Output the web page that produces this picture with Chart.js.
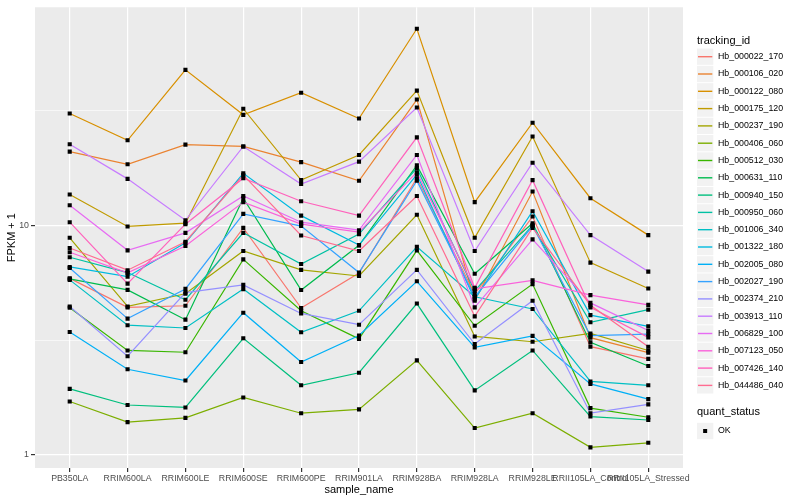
<!DOCTYPE html>
<html lang="en">
<head>
<meta charset="UTF-8">
<title>FPKM + 1 by sample_name</title>
<script src="https://cdn.jsdelivr.net/npm/chart.js"></script>
<style>
    html, body { margin: 0; padding: 0; background: #fff; }
    #wrap { width: 800px; height: 500px; }
</style>
</head>
<body>
<div id="wrap"><canvas id="fpkmChart" width="800" height="500"></canvas></div>
<script>
// x axis categories
const sampleNames = ['PB350LA', 'RRIM600LA', 'RRIM600LE', 'RRIM600SE', 'RRIM600PE', 'RRIM901LA',
    'RRIM928BA', 'RRIM928LA', 'RRIM928LE', 'RRII105LA_Control', 'RRII105LA_Stressed'];

const trackingIds = ['Hb_000022_170', 'Hb_000106_020', 'Hb_000122_080', 'Hb_000175_120', 'Hb_000237_190',
    'Hb_000406_060', 'Hb_000512_030', 'Hb_000631_110', 'Hb_000940_150', 'Hb_000950_060', 'Hb_001006_340',
    'Hb_001322_180', 'Hb_002005_080', 'Hb_002027_190', 'Hb_002374_210', 'Hb_003913_110', 'Hb_006829_100',
    'Hb_007123_050', 'Hb_007426_140', 'Hb_044486_040'];

// FPKM + 1 per gene, same order as sampleNames
const hb000022_170 = [5.87, 4.39, 4.46, 9.73, 4.36, 6.19, 16.0, 5.02, 10.9, 2.96, 2.62];
const hb000106_020 = [20.9, 18.4, 22.4, 22.0, 18.8, 15.6, 35.2, 4.69, 14.0, 3.24, 2.79];
const hb000122_080 = [30.6, 23.4, 47.4, 30.2, 37.7, 29.1, 71.5, 12.6, 27.9, 13.1, 9.05];
const hb000175_120 = [13.6, 9.87, 10.2, 32.1, 15.7, 20.2, 38.5, 8.81, 24.3, 6.87, 5.30];
const hb000237_190 = [8.81, 4.43, 5.03, 7.72, 6.39, 6.01, 11.1, 3.28, 3.11, 3.38, 2.85];
const hb000406_060 = [1.71, 1.39, 1.45, 1.78, 1.52, 1.58, 2.58, 1.31, 1.52, 1.08, 1.13];
const hb000512_030 = [4.37, 2.85, 2.80, 7.10, 4.24, 3.20, 7.77, 3.65, 5.54, 1.60, 1.46];
const hb000631_110 = [5.84, 5.23, 3.88, 13.1, 5.22, 8.17, 18.2, 6.15, 10.2, 3.09, 2.44];
const hb000940_150 = [1.94, 1.65, 1.61, 3.22, 2.01, 2.28, 4.56, 1.91, 2.85, 1.47, 1.42];
const hb000950_060 = [7.25, 6.22, 4.74, 9.26, 6.78, 9.14, 17.7, 5.18, 10.0, 3.78, 4.29];
const hb001006_340 = [5.78, 3.67, 3.57, 5.27, 3.42, 4.24, 8.05, 4.88, 4.32, 2.09, 2.01];
const hb001322_180 = [6.58, 5.97, 8.38, 16.8, 11.0, 8.19, 16.6, 4.76, 11.5, 4.06, 3.63];
const hb002005_080 = [3.43, 2.36, 2.11, 4.16, 2.54, 3.31, 5.70, 2.94, 3.30, 2.04, 1.75];
const hb002027_190 = [6.51, 3.92, 5.28, 11.2, 9.91, 6.22, 15.6, 4.88, 9.91, 3.31, 3.36];
const hb002374_210 = [4.43, 2.69, 5.09, 5.50, 4.13, 3.69, 6.39, 3.04, 4.69, 1.52, 1.66];
const hb003913_110 = [22.5, 15.9, 10.5, 22.0, 15.1, 18.9, 32.5, 7.72, 18.7, 9.05, 6.28];
const hb006829_100 = [12.2, 7.77, 9.26, 13.4, 10.3, 9.51, 20.2, 4.39, 8.67, 4.59, 3.48];
const hb007123_050 = [7.62, 6.20, 8.11, 12.6, 10.1, 9.33, 17.0, 5.28, 5.75, 4.96, 4.50];
const hb007426_140 = [10.3, 5.57, 10.1, 16.0, 12.7, 11.0, 24.1, 5.34, 15.7, 4.39, 3.25];
const hb044486_040 = [7.95, 6.37, 8.47, 16.5, 9.02, 7.72, 13.4, 4.01, 9.73, 4.48, 2.96];

const seriesValues = [hb000022_170, hb000106_020, hb000122_080, hb000175_120, hb000237_190,
    hb000406_060, hb000512_030, hb000631_110, hb000940_150, hb000950_060, hb001006_340,
    hb001322_180, hb002005_080, hb002027_190, hb002374_210, hb003913_110, hb006829_100,
    hb007123_050, hb007426_140, hb044486_040];

// y ticks: labelled decades plus the half-decade minor lines
const yTickValues = [1, Math.sqrt(10), 10, 10 * Math.sqrt(10)];
const yTickLabels = ['1', '', '10', ''];

// ggplot default hue palette for 20 levels
const colors = ['#F8766D', '#EA8331', '#D89000', '#C09B00', '#A3A500', '#7CAE00', '#39B600', '#00BB4E',
    '#00BF7D', '#00C1A3', '#00BFC4', '#00BAE0', '#00B0F6', '#35A2FF', '#9590FF', '#C77CFF', '#E76BF3',
    '#FA62DB', '#FF62BC', '#FF6C91'];

const FONT = '"Liberation Sans", Arial, sans-serif';
Chart.defaults.font.family = FONT;

const lineSets = seriesValues.map((vals, i) => ({
    label: trackingIds[i],
    data: vals.map((v, j) => ({ x: j, y: v })),
    borderColor: colors[i],
    borderWidth: 1.2,
    pointRadius: 0,
    fill: false,
    tension: 0,
    order: 100 - i
}));

// black points for quant_status = OK, drawn above every line
const pointSet = {
    label: 'OK',
    data: seriesValues.flatMap(vals => vals.map((v, j) => ({ x: j, y: v }))),
    showLine: false,
    pointStyle: 'rect',
    pointRadius: 2.9,
    pointBackgroundColor: '#000',
    pointBorderWidth: 0,
    order: 0
};

const panelBg = {
    id: 'panelBg',
    beforeDraw(chart) {
        const { ctx, chartArea: a } = chart;
        ctx.save();
        ctx.fillStyle = '#EBEBEB';
        ctx.fillRect(a.left, a.top, a.right - a.left, a.bottom - a.top);
        ctx.restore();
    }
};

const ggLegend = {
    id: 'ggLegend',
    afterDraw(chart) {
        const ctx = chart.ctx;
        const x0 = 697, keyW = 16.3, step = 17.3;
        ctx.save();
        ctx.textBaseline = 'middle';
        ctx.textAlign = 'left';
        ctx.fillStyle = '#000';
        ctx.font = '11px ' + FONT;
        ctx.fillText('tracking_id', x0, 40.7);

        ctx.font = '8.8px ' + FONT;
        trackingIds.forEach((id, i) => {
            const cy = 56.7 + i * step;
            ctx.fillStyle = '#F2F2F2';
            ctx.fillRect(x0, cy - keyW / 2, keyW, keyW);
            ctx.strokeStyle = colors[i];
            ctx.lineWidth = 1.4;
            ctx.beginPath();
            ctx.moveTo(x0 + 1, cy);
            ctx.lineTo(x0 + keyW - 1, cy);
            ctx.stroke();
            ctx.fillStyle = '#000';
            ctx.fillText(id, 718, cy);
        });

        ctx.font = '11px ' + FONT;
        ctx.fillText('quant_status', x0, 411.7);
        const okY = 431;
        ctx.fillStyle = '#F2F2F2';
        ctx.fillRect(x0, okY - keyW / 2, keyW, keyW);
        ctx.fillStyle = '#000';
        ctx.fillRect(x0 + keyW / 2 - 2, okY - 2, 4, 4);
        ctx.font = '8.8px ' + FONT;
        ctx.fillText('OK', 718, okY);
        ctx.restore();
    }
};

new Chart(document.getElementById('fpkmChart'), {
    type: 'line',
    data: { datasets: [...lineSets, pointSet] },
    options: {
        responsive: false,
        animation: false,
        events: [],
        layout: { padding: { left: 0, right: 117, top: 5, bottom: 0 } },
        plugins: { legend: { display: false }, tooltip: { enabled: false } },
        scales: {
            x: {
                type: 'linear',
                min: -0.6,
                max: 10.6,
                bounds: 'data',
                afterBuildTicks: s => { s.ticks = sampleNames.map((n, i) => ({ value: i })); },
                afterFit: s => { s.height = 32; },
                ticks: {
                    autoSkip: false,
                    maxRotation: 0,
                    minRotation: 0,
                    padding: 1,
                    color: '#4D4D4D',
                    font: { size: 8.8 },
                    callback: v => sampleNames[v]
                },
                grid: { color: '#FFFFFF', lineWidth: 1.2, tickLength: 4, tickColor: '#333333' },
                border: { display: false },
                title: {
                    display: true,
                    text: 'sample_name',
                    color: '#000',
                    font: { size: 11 },
                    padding: { top: 0, bottom: 3 }
                }
            },
            y: {
                type: 'logarithmic',
                min: 0.878,
                max: 88.7,
                bounds: 'data',
                afterBuildTicks: s => { s.ticks = yTickValues.map(v => ({ value: v })); },
                afterFit: s => { s.width = 35; },
                ticks: {
                    padding: 2,
                    color: '#4D4D4D',
                    font: { size: 8.8 },
                    callback: (v, i) => yTickLabels[i]
                },
                grid: {
                    color: '#FFFFFF',
                    lineWidth: c => (c.index % 2 === 0 ? 1.2 : 0.6),
                    tickLength: 4,
                    tickColor: c => (c.index % 2 === 0 ? '#333333' : 'rgba(0,0,0,0)')
                },
                border: { display: false },
                title: {
                    display: true,
                    text: 'FPKM + 1',
                    color: '#000',
                    font: { size: 11 },
                    padding: { top: 5, bottom: 0 }
                }
            }
        }
    },
    plugins: [panelBg, ggLegend]
});
</script>
</body>
</html>
